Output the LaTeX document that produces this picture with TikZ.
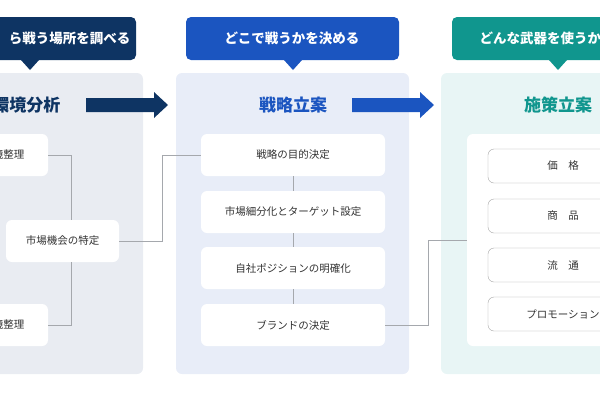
\documentclass[tikz,border=0pt]{standalone}
\usepackage{fontspec}
\setmainfont{Noto Sans CJK JP}
\usetikzlibrary{arrows.meta, positioning}
\definecolor{navy}{HTML}{0E3463}
\definecolor{blu}{HTML}{1B55C0}
\definecolor{teal}{HTML}{10968E}
\definecolor{pane1}{HTML}{E9ECF2}
\definecolor{pane2}{HTML}{E8EDF8}
\definecolor{pane3}{HTML}{E8F5F5}
\definecolor{lnk}{HTML}{A5A8AD}
\definecolor{txt}{HTML}{333333}
\tikzset{
  card/.style={fill=white, rounded corners=6pt, minimum height=42pt, text=txt, font=\fontsize{10.5}{12}\selectfont, inner sep=0pt},
  mix/.style={fill=white, draw=gray!70, rounded corners=6pt, minimum height=34pt, text=txt, font=\fontsize{10.5}{12}\selectfont, inner sep=0pt},
  head/.style={text=white, font=\fontsize{13.5}{15}\selectfont\bfseries},
  ttl/.style={font=\fontsize{17}{20}\selectfont\bfseries},
  link/.style={draw=lnk, line width=1pt},
}
\begin{document}
\begin{tikzpicture}[x=1pt, y=-1pt]
\useasboundingbox (0,0) rectangle (600,400);
\clip (0,0) rectangle (600,400);

% panels
\fill[pane1, rounded corners=6pt] (-60,73) rectangle (143,374);
\fill[pane2, rounded corners=6pt] (176,73) rectangle (409,374);
\fill[pane3, rounded corners=6pt] (441,73) rectangle (660,374);
\fill[white, rounded corners=6pt] (467,134) rectangle (660,346);

% headers
\fill[navy, rounded corners=5pt] (-60,17) rectangle (136,60);
\fill[navy] (21,60) -- (30,70) -- (39,60) -- cycle;
\fill[blu, rounded corners=5pt] (186,17) rectangle (399,60);
\fill[blu] (284,60) -- (293,70) -- (302,60) -- cycle;
\fill[teal, rounded corners=5pt] (452,17) rectangle (660,60);
\fill[teal] (549,60) -- (558,70) -- (567,60) -- cycle;
\node[head, anchor=east] (h1) at (134,38.5) {ら戦う場所を調べる};
\node[head] (h2) at (292,38.5) {どこで戦うかを決める};
\node[head, anchor=west] (h3) at (476,38.5) {どんな武器を使うかを決める};

% titles and arrows
\node[ttl, text=navy, anchor=east] (t1) at (64,105) {環境分析};
\node[ttl, text=blu] (t2) at (293,105) {戦略立案};
\node[ttl, text=teal] (t3) at (558,105) {施策立案};
\fill[navy] (86,98) -- (154,98) -- (154,92) -- (168,105) -- (154,118) -- (154,112) -- (86,112) -- cycle;
\fill[blu] (352,98) -- (420,98) -- (420,92) -- (434,105) -- (420,118) -- (420,112) -- (352,112) -- cycle;

% column 1
\node[card, minimum width=108pt] (e1) at (-6,155) {};
\node[text=txt, font=\fontsize{10.5}{12}\selectfont, anchor=east] at (28,155) {境整理};
\node[card, minimum width=113pt] (e2) at (62.5,241) {市場機会の特定};
\node[card, minimum width=108pt] (e3) at (-6,325) {};
\node[text=txt, font=\fontsize{10.5}{12}\selectfont, anchor=east] at (28,325) {境整理};

% column 2
\node[card, minimum width=184pt] (s1) at (293,155) {戦略の目的決定};
\node[card, minimum width=184pt] (s2) at (293,212) {市場細分化とターゲット設定};
\node[card, minimum width=184pt] (s3) at (293,268) {自社ポジションの明確化};
\node[card, minimum width=184pt] (s4) at (293,325) {ブランドの決定};

% column 3
\node[mix, minimum width=150pt] (m1) at (563,166) {価\quad 格};
\node[mix, minimum width=150pt] (m2) at (563,216) {商\quad 品};
\node[mix, minimum width=150pt] (m3) at (563,265) {流\quad 通};
\node[mix, minimum width=150pt] (m4) at (563,314) {プロモーション};

% links
\coordinate (p1) at (467,240);
\draw[link] (e1.east) -- (71,155) -- (71,220);
\draw[link] (71,262) -- (71,325) -- (e3.east);
\draw[link] (e2.east) -- ++(43,0) |- (s1.west);
\draw[link] (s1) -- (s2);
\draw[link] (s2) -- (s3);
\draw[link] (s3) -- (s4);
\draw[link] (s4.east) -- ++(43,0) |- (p1);
\end{tikzpicture}
\end{document}
